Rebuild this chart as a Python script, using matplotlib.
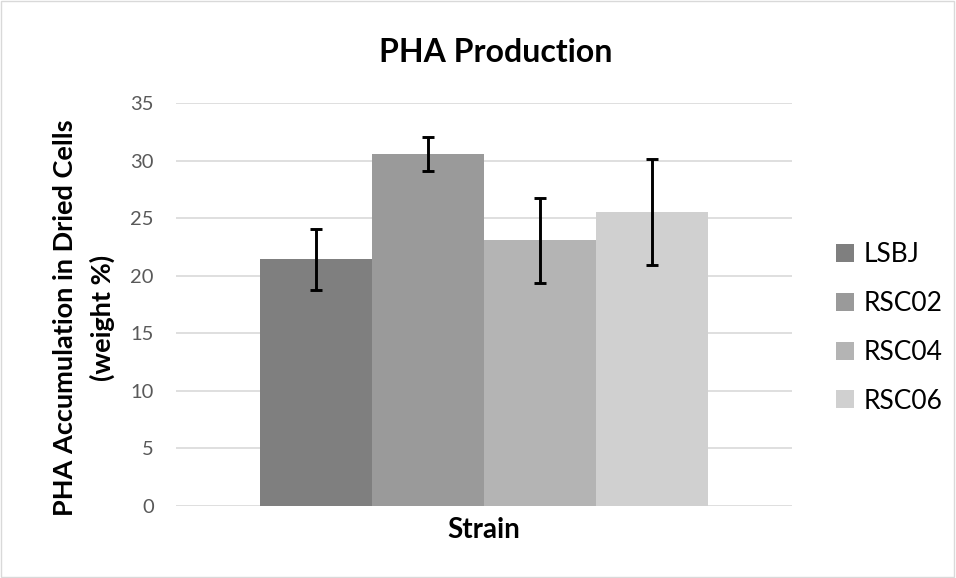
import matplotlib
matplotlib.use("Agg")
import matplotlib.pyplot as plt
from matplotlib.patches import Rectangle
import numpy as np

strains = ["LSBJ", "RSC02", "RSC04", "RSC06"]
values = [21.45, 30.6, 23.1, 25.55]
errors = [2.65, 1.5, 3.7, 4.6]
colors = ["#7f7f7f", "#9a9a9a", "#b4b4b4", "#d0d0d0"]
yticks = [0, 5, 10, 15, 20, 25, 30, 35]

plt.rcParams['font.family'] = ['Lato', 'DejaVu Sans']

W, H = 956, 578
fig = plt.figure(figsize=(W/100, H/100), dpi=100)
ax = fig.add_axes([176/W, 1-505.7/H, 616/W, (505.7-103.2)/H])

offsets = np.arange(len(strains)) - (len(strains)-1)/2
for off, v, e, c, s in zip(offsets, values, errors, colors, strains):
    ax.bar(off, v, width=1.0, color=c, label=s, zorder=2)
    ax.errorbar(off, v, yerr=e, fmt='none', ecolor='black', elinewidth=2.1,
                capsize=4.5, capthick=2.1, zorder=3)

ax.set_xlim(-2.75, 2.75)
ax.set_ylim(0, 35)
ax.set_yticks(yticks)
ax.set_xticks([])
ax.grid(axis='y', color='#d9d9d9', linewidth=1.2, zorder=0)
for sp in ax.spines.values():
    sp.set_visible(False)
ax.tick_params(axis='y', length=0, labelsize=14.5, labelcolor='#595959', pad=16)

fig.text(484/W, 1-538/H, "Strain", fontsize=20, fontweight='bold',
         ha='center', va='baseline')
fig.text(65/W, 1-318/H, "PHA Accumulation in Dried Cells", fontsize=19.5,
         fontweight='bold', rotation=90, ha='center', va='center')
fig.text(102/W, 1-318/H, "(weight %)", fontsize=19.5,
         fontweight='bold', rotation=90, ha='center', va='center')
fig.text(496/W, 1-62/H, "PHA Production", fontsize=23, fontweight='bold',
         ha='center', va='baseline')

leg = ax.legend(loc='center left', bbox_to_anchor=(836/W, 1-328/H),
                bbox_transform=fig.transFigure, frameon=False, borderpad=0,
                borderaxespad=0, fontsize=19, handlelength=0.68, handleheight=0.68,
                labelspacing=0.9, handletextpad=0.35)

fig.patches.append(Rectangle((0.001, 0.002), 0.997, 0.996, transform=fig.transFigure,
                             fill=False, edgecolor='#d9d9d9', linewidth=1))

fig.savefig("out.png", dpi=100)
